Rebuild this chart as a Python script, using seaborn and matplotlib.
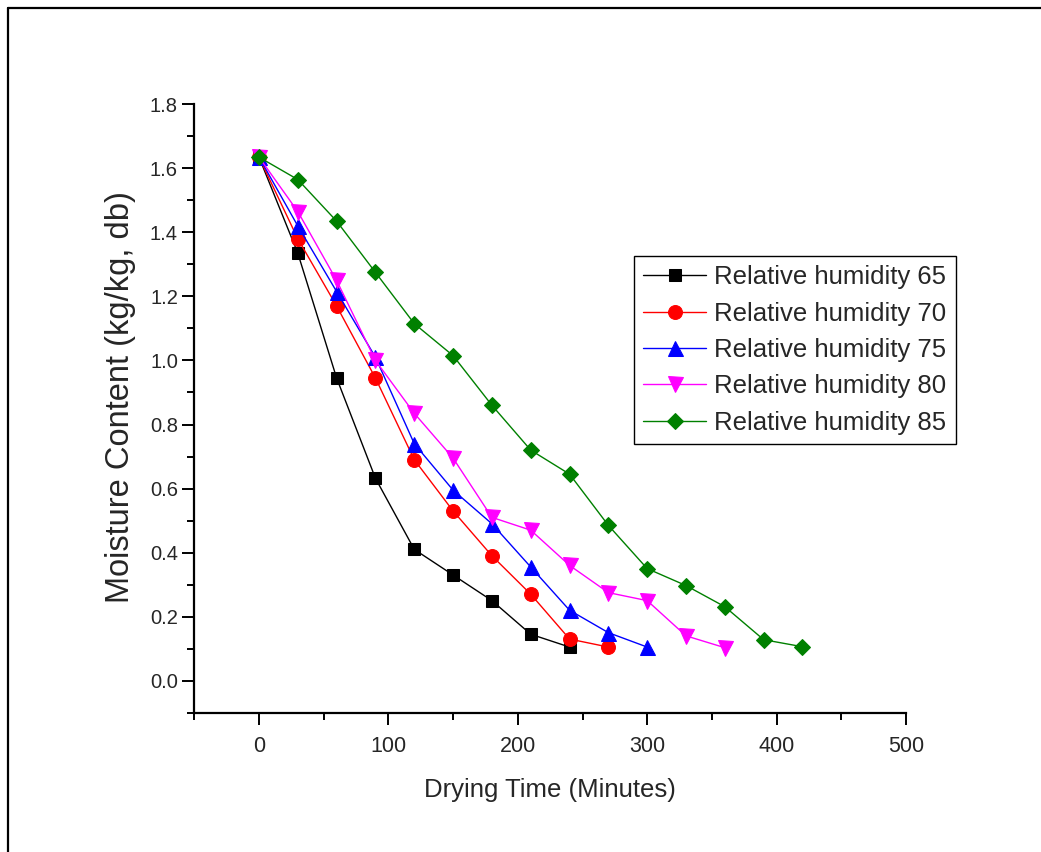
import numpy as np
import pandas as pd
import matplotlib
matplotlib.use("Agg")
import matplotlib.pyplot as plt
from matplotlib.ticker import MultipleLocator, FormatStrFormatter
from matplotlib.lines import Line2D
import seaborn as sns

# ---- data ----
labels = ["Relative humidity 65", "Relative humidity 70", "Relative humidity 75",
          "Relative humidity 80", "Relative humidity 85"]
time_65 = [0, 30, 60, 90, 120, 150, 180, 210, 240]
mc_65 = [1.635, 1.335, 0.945, 0.632, 0.41, 0.33, 0.25, 0.145, 0.105]
time_70 = [0, 30, 60, 90, 120, 150, 180, 210, 240, 270]
mc_70 = [1.635, 1.38, 1.17, 0.945, 0.69, 0.53, 0.39, 0.27, 0.13, 0.105]
time_75 = [0, 30, 60, 90, 120, 150, 180, 210, 240, 270, 300]
mc_75 = [1.635, 1.42, 1.215, 1.01, 0.74, 0.595, 0.49, 0.355, 0.22, 0.15, 0.105]
time_80 = [0, 30, 60, 90, 120, 150, 180, 210, 240, 270, 300, 330, 360]
mc_80 = [1.635, 1.465, 1.25, 1.0, 0.835, 0.695, 0.51, 0.47, 0.36, 0.275, 0.25, 0.14, 0.103]
time_85 = [0, 30, 60, 90, 120, 150, 180, 210, 240, 270, 300, 330, 360, 390, 420]
mc_85 = [1.635, 1.565, 1.435, 1.275, 1.115, 1.015, 0.86, 0.72, 0.645, 0.485, 0.35, 0.297,
         0.231, 0.128, 0.106]

x_ticks = [0, 100, 200, 300, 400, 500]
y_ticks = [0.0, 0.2, 0.4, 0.6, 0.8, 1.0, 1.2, 1.4, 1.6, 1.8]

series = [(time_65, mc_65), (time_70, mc_70), (time_75, mc_75), (time_80, mc_80), (time_85, mc_85)]
colors = ["#000000", "#FF0000", "#0000FF", "#FF00FF", "#008000"]
markers = ["s", "o", "^", "v", "D"]
msizes = [8.7, 10.0, 10.8, 10.8, 8.5]

sns.set_style("white")
plt.rcParams["font.family"] = ["Liberation Sans", "DejaVu Sans"]

W, H = 1041, 852
fig = plt.figure(figsize=(W / 100, H / 100), dpi=100)
ax = fig.add_axes([194.3 / W, 1 - 712.7 / H, (906 - 194.3) / W, (712.7 - 104.3) / H])

for (t, m), lab, c, mk, ms in zip(series, labels, colors, markers, msizes):
    df = pd.DataFrame({"time": t, "mc": m})
    sns.lineplot(data=df, x="time", y="mc", ax=ax, color=c, marker=mk, markersize=ms,
                 markeredgecolor=c, markerfacecolor=c, linewidth=1.0, label=lab,
                 estimator=None, sort=False)

ax.set_xlim(-50, 500)
ax.set_ylim(-0.1, 1.8)
ax.set_xticks(x_ticks)
ax.set_yticks(y_ticks)
ax.xaxis.set_minor_locator(MultipleLocator(50))
ax.yaxis.set_minor_locator(MultipleLocator(0.1))
ax.yaxis.set_major_formatter(FormatStrFormatter("%.1f"))

for s in ["top", "right"]:
    ax.spines[s].set_visible(False)
for s in ["left", "bottom"]:
    ax.spines[s].set_linewidth(1.6)
    ax.spines[s].set_color("black")

ax.tick_params(axis="both", which="major", direction="out", length=8.8, width=1.4,
               color="black", bottom=True, left=True)
ax.tick_params(axis="both", which="minor", direction="out", length=4.8, width=1.4,
               color="black", bottom=True, left=True)
ax.tick_params(axis="y", which="major", labelsize=14.5, pad=3)
ax.tick_params(axis="x", which="major", labelsize=15.5, pad=8)

ax.set_xlabel("Drying Time (Minutes)", fontsize=18.5)
ax.xaxis.set_label_coords(0.5, (712.7 - 790) / 608.4)
ax.xaxis.label.set_va("center")
ax.set_ylabel("Moisture Content (kg/kg, db)", fontsize=23.5)
ax.yaxis.set_label_coords((121 - 194.3) / 711.7, (712.7 - 397) / 608.4)
ax.yaxis.label.set_va("center")

leg = ax.legend(loc="upper left", bbox_to_anchor=((634 - 194.3) / 711.7, (712.7 - 256) / 608.4),
                borderaxespad=0, fontsize=18.5, frameon=True, fancybox=False, framealpha=1,
                edgecolor="black", numpoints=1, handlelength=2.45, handletextpad=0.32,
                labelspacing=0.48, borderpad=0.36)
leg.get_frame().set_linewidth(1.0)

# outer frame lines
fig.add_artist(Line2D([8 / W, 8 / W], [0, 1 - 8 / H], transform=fig.transFigure,
                      color="black", linewidth=1.6))
fig.add_artist(Line2D([8 / W, 1], [1 - 8 / H, 1 - 8 / H], transform=fig.transFigure,
                      color="black", linewidth=1.6))

fig.savefig("out.png", dpi=100)
